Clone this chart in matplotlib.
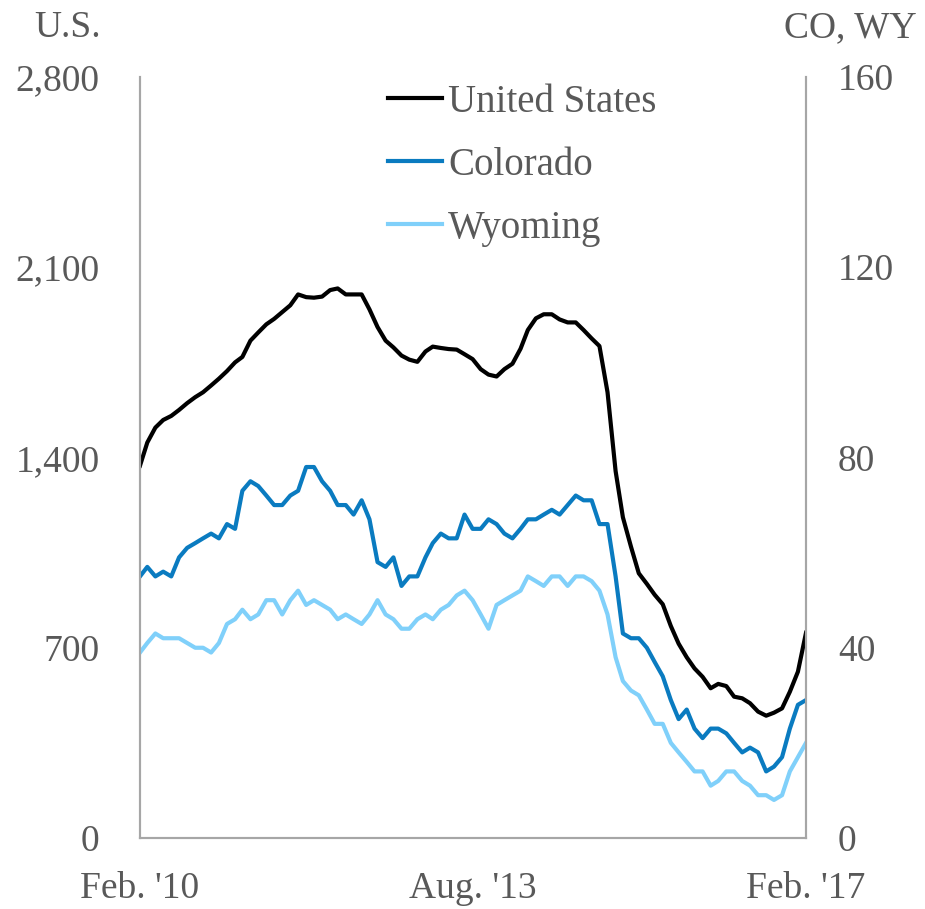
import matplotlib
matplotlib.use("Agg")
import matplotlib.pyplot as plt
import pandas as pd

# monthly rig counts, Feb 2010 - Feb 2017
months = pd.date_range("2010-02-01", "2017-02-01", freq="MS")

us = [1370, 1455, 1510, 1538, 1553, 1575, 1600, 1622, 1640, 1665,
      1690, 1718, 1750, 1770, 1830, 1860, 1890, 1910, 1935, 1960,
      2000, 1990, 1988, 1992, 2016, 2022, 2000, 2000, 2000, 1945,
      1880, 1830, 1805, 1775, 1760, 1752, 1790, 1808, 1803, 1799,
      1797, 1780, 1762, 1725, 1705, 1698, 1725, 1745, 1800, 1869,
      1912, 1927, 1927, 1908, 1897, 1897, 1869, 1838, 1810, 1640,
      1350, 1180, 1072, 974, 935, 895, 860, 780, 715, 665,
      624, 593, 551, 567, 559, 520, 514, 496, 465, 450,
      461, 477, 538, 612, 755]

colorado = [55, 57, 55, 56, 55, 59, 61, 62, 63, 64,
            63, 66, 65, 73, 75, 74, 72, 70, 70, 72,
            73, 78, 78, 75, 73, 70, 70, 68, 71, 67,
            58, 57, 59, 53, 55, 55, 59, 62, 64, 63,
            63, 68, 65, 65, 67, 66, 64, 63, 65, 67,
            67, 68, 69, 68, 70, 72, 71, 71, 66, 66,
            55, 43, 42, 42, 40, 37, 34, 29, 25, 27,
            23, 21, 23, 23, 22, 20, 18, 19, 18, 14,
            15, 17, 23, 28, 29]

wyoming = [39, 41, 43, 42, 42, 42, 41, 40, 40, 39,
           41, 45, 46, 48, 46, 47, 50, 50, 47, 50,
           52, 49, 50, 49, 48, 46, 47, 46, 45, 47,
           50, 47, 46, 44, 44, 46, 47, 46, 48, 49,
           51, 52, 50, 47, 44, 49, 50, 51, 52, 55,
           54, 53, 55, 55, 53, 55, 55, 54, 52, 47,
           38, 33, 31, 30, 27, 24, 24, 20, 18, 16,
           14, 14, 11, 12, 14, 14, 12, 11, 9, 9,
           8, 9, 14, 17, 20]

x_ticks = [months[0], months[42], months[-1]]
x_labels = ["Feb. '10", "Aug. '13", "Feb. '17"]
us_ticks = [0, 700, 1400, 2100, 2800]
state_ticks = [0, 40, 80, 120, 160]

txt = "#595959"
spine_c = "#A6A6A6"
plt.rcParams["font.family"] = ["Liberation Serif", "DejaVu Serif"]
plt.rcParams["font.size"] = 27

fig = plt.figure(figsize=(9.25, 9.09), dpi=100)
ax = fig.add_axes([140 / 925, 1 - 838 / 909, 666 / 925, 761 / 909])
ax2 = ax.twinx()

l1, = ax.plot(months, us, color="black", lw=3, label="United States")
l2, = ax2.plot(months, colorado, color="#0A7BC0", lw=3, label="Colorado")
l3, = ax2.plot(months, wyoming, color="#80D0FA", lw=3, label="Wyoming")

ax.set_xlim(months[0], months[-1])
ax.set_ylim(0, 2800)
ax2.set_ylim(0, 160)
ax.set_yticks(us_ticks)
ax.set_yticklabels([f"{v:,}" for v in us_ticks])
ax2.set_yticks(state_ticks)
ax.set_xticks(x_ticks)
ax.set_xticklabels(x_labels)

for a in (ax, ax2):
    for s in a.spines.values():
        s.set_color(spine_c)
        s.set_linewidth(1.5)
    a.spines["top"].set_visible(False)
    a.tick_params(length=0, colors=txt, labelsize=27)
ax.tick_params(axis="y", pad=29)
ax2.tick_params(axis="y", pad=23)
ax.tick_params(axis="x", pad=24)

fig.text(68 / 925, 1 - 28 / 909, "U.S.", ha="center", va="center", color=txt, fontsize=27)
fig.text(850 / 925, 1 - 28 / 909, "CO, WY", ha="center", va="center", color=txt, fontsize=27)

leg = ax2.legend(handles=[l1, l2, l3], loc="upper left",
                 bbox_to_anchor=(388 / 925, 1 - 84 / 909), bbox_transform=fig.transFigure,
                 frameon=False, fontsize=28, handlelength=1.4, handletextpad=0.15,
                 labelspacing=0.67, borderaxespad=0, borderpad=0)
for t in leg.get_texts():
    t.set_color(txt)

fig.savefig("out.png", dpi=100)
